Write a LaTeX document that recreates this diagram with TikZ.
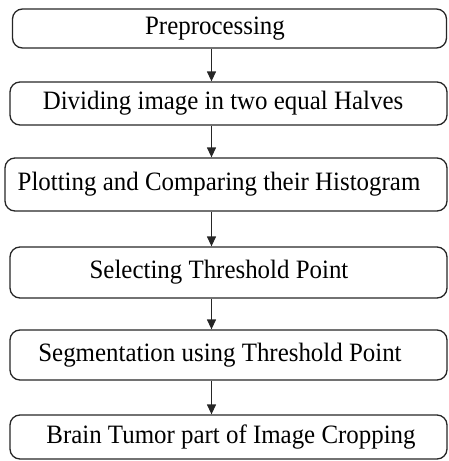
\documentclass[tikz,border=0pt]{standalone}
\usepackage{graphicx}
\usepackage{fontspec}
\setmainfont{Liberation Serif}
\usetikzlibrary{arrows.meta}
% labels are set in a slightly narrowed serif
\newcommand{\steptext}[1]{\scalebox{0.94}[1]{#1}}
\begin{document}
\begin{tikzpicture}[x=1pt,y=-1pt,
  stepbox/.style={draw=black!85,line width=1.3pt,rounded corners=10pt,inner sep=0pt},
  txt/.style={inner sep=0pt,font=\fontsize{26.5}{30}\selectfont,text=black},
  arr/.style={draw=black!85,line width=1.3pt,-{Triangle[length=10pt,width=9pt]}}]
\useasboundingbox (0,0) rectangle (449,461);
% process boxes
\node[stepbox,minimum width=434pt,minimum height=39pt] (b1) at (229.5,28.5) {};
\node[stepbox,minimum width=437pt,minimum height=43pt] (b2) at (228.5,103.5) {};
\node[stepbox,minimum width=442pt,minimum height=53pt] (b3) at (226,184.5) {};
\node[stepbox,minimum width=437pt,minimum height=51pt] (b4) at (228.5,272.5) {};
\node[stepbox,minimum width=437pt,minimum height=50pt] (b5) at (228.5,355) {};
\node[stepbox,minimum width=437pt,minimum height=44pt] (b6) at (228.5,437) {};
% labels
\node[txt] (t1) at (215,28.5) {\steptext{Preprocessing}};
\node[txt] (t2) at (223,103.5) {\steptext{Dividing image in two equal Halves}};
\node[txt] (t3) at (219,184.5) {\steptext{Plotting and Comparing their Histogram}};
\node[txt] (t4) at (219,272.5) {\steptext{Selecting Threshold Point}};
\node[txt] (t5) at (220,355) {\steptext{Segmentation using Threshold Point}};
\node[txt] (t6) at (231,437) {\steptext{Brain Tumor part of Image Cropping}};
% connectors
\coordinate (ax) at (211.5,0);
\draw[arr] (b1.south -| ax) -- (b2.north -| ax);
\draw[arr] (b2.south -| ax) -- (b3.north -| ax);
\draw[arr] (b3.south -| ax) -- (b4.north -| ax);
\draw[arr] (b4.south -| ax) -- (b5.north -| ax);
\draw[arr] (b5.south -| ax) -- (b6.north -| ax);
\end{tikzpicture}
\end{document}
